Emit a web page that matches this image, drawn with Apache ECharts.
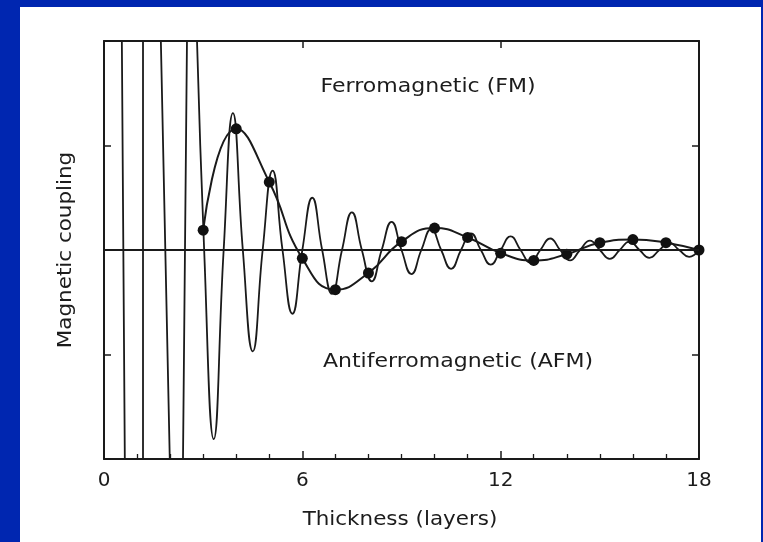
<!DOCTYPE html>
<html>
<head>
<meta charset="utf-8">
<script src="https://cdn.jsdelivr.net/npm/echarts@6/dist/echarts.min.js"></script>
<style>
  html, body { margin: 0; padding: 0; width: 763px; height: 542px; background: #0026b0; overflow: hidden; }
  #c { position: absolute; left: 20px; top: 7px; width: 741px; height: 535px; background: #ffffff; }
</style>
</head>
<body>
<div id="c"></div>
<script>
// ---- data ----
// thickness (layers) at which coupling is sampled (dots)
const layers = [3, 4, 5, 6, 7, 8, 9, 10, 11, 12, 13, 14, 15, 16, 17, 18];
const couplingAtLayers = [0.19, 1.16, 0.65, -0.08, -0.38, -0.22, 0.08, 0.21, 0.12, -0.03, -0.10, -0.04, 0.07, 0.10, 0.07, 0.00];

// continuous (short period) coupling, steep off-scale part at small thickness
const steepX = [0.45, 0.531, 0.639, 1.18, 1.18, 1.693, 2.017, 2.378, 2.522, 2.78];
const steepY = [2.4, 2.4, -2.4, -2.4, 2.4, 2.4, -2.4, -2.4, 2.4, 2.4];

// continuous (short period) coupling, on-scale part (extrema and zero crossings)
const oscX = [2.78, 3.03, 3.32, 3.62, 3.90, 4.20, 4.50, 4.80, 5.10, 5.40, 5.70, 6.00, 6.30, 6.60, 6.90,
              7.20, 7.50, 7.80, 8.10, 8.40, 8.70, 9.00, 9.30, 9.60, 9.90, 10.20, 10.50, 10.80, 11.10,
              11.40, 11.70, 12.00, 12.30, 12.60, 12.90, 13.20, 13.50, 13.80, 14.10, 14.40, 14.70,
              15.00, 15.30, 15.60, 15.90, 16.20, 16.50, 16.80, 17.10, 17.40, 17.70, 18.00];
const oscY = [2.4, 0, -1.81, 0, 1.31, 0, -0.97, 0, 0.76, 0, -0.61, 0, 0.50, 0, -0.42,
              0, 0.36, 0, -0.30, 0, 0.27, 0, -0.23, 0, 0.20, 0, -0.18, 0, 0.16,
              0, -0.14, 0, 0.13, 0, -0.12, 0, 0.11, 0, -0.10, 0, 0.09,
              0, -0.085, 0, 0.08, 0, -0.075, 0, 0.07, 0, -0.065, 0];

const xTickLabels = ['0', '6', '12', '18'];
const xTitle = 'Thickness (layers)';
const yTitle = 'Magnetic coupling';
const fmLabel = 'Ferromagnetic (FM)';
const afmLabel = 'Antiferromagnetic (AFM)';

// ---- chart ----
const ink = '#1a1a1a';
const textInk = '#1c1c1c';
const font = '"DejaVu Sans", sans-serif';
const zip = (xs, ys) => xs.map((x, i) => [x, ys[i]]);

const chart = echarts.init(document.getElementById('c'), null, { renderer: 'canvas' });

const frameAxisLine = { show: true, onZero: false, lineStyle: { color: ink, width: 2 } };
const tickStyle = { color: ink, width: 1.5 };

chart.setOption({
  animation: false,
  backgroundColor: '#ffffff',
  grid: { left: 84, right: 62, top: 34, bottom: 83, containLabel: false },
  xAxis: [
    {
      type: 'value', position: 'bottom', min: 0, max: 18, interval: 6,
      axisLine: frameAxisLine,
      axisTick: { show: true, inside: true, length: 8, lineStyle: tickStyle },
      minorTick: { show: true, splitNumber: 6, length: 5, lineStyle: { color: ink, width: 1.3 } },
      splitLine: { show: false },
      axisLabel: {
        show: true, margin: 12, color: textInk, fontSize: 20, fontFamily: font,
        formatter: v => xTickLabels[Math.round(v / 6)]
      }
    },
    {
      type: 'value', position: 'top', min: 0, max: 18, interval: 6,
      axisLine: frameAxisLine,
      axisTick: { show: true, inside: true, length: 7, lineStyle: tickStyle },
      splitLine: { show: false },
      axisLabel: { show: false }
    }
  ],
  yAxis: [
    {
      type: 'value', position: 'left', min: -2, max: 2, interval: 1,
      axisLine: frameAxisLine,
      axisTick: { show: true, inside: true, length: 7, lineStyle: tickStyle },
      splitLine: { show: false },
      axisLabel: { show: false }
    },
    {
      type: 'value', position: 'right', min: -2, max: 2, interval: 1,
      axisLine: frameAxisLine,
      axisTick: { show: true, inside: true, length: 7, lineStyle: tickStyle },
      splitLine: { show: false },
      axisLabel: { show: false }
    }
  ],
  series: [
    {
      name: 'steep', type: 'line', xAxisIndex: 0, yAxisIndex: 0,
      data: zip(steepX, steepY), smooth: false, symbol: 'none', clip: true,
      lineStyle: { color: ink, width: 1.8 },
      markLine: {
        silent: true, symbol: ['none', 'none'], label: { show: false },
        lineStyle: { color: ink, width: 2, type: 'solid' },
        data: [{ yAxis: 0 }]
      }
    },
    {
      name: 'oscillation', type: 'line', xAxisIndex: 0, yAxisIndex: 0,
      data: zip(oscX, oscY), smooth: 0.5, symbol: 'none', clip: true,
      lineStyle: { color: ink, width: 1.8 }
    },
    {
      name: 'coupling', type: 'line', xAxisIndex: 0, yAxisIndex: 0,
      data: zip(layers, couplingAtLayers), smooth: 0.5, clip: true,
      symbol: 'circle', symbolSize: 11, showSymbol: true,
      itemStyle: { color: '#111' },
      lineStyle: { color: ink, width: 2 }
    }
  ],
  graphic: [
    {
      type: 'text', x: 408, y: 80, scaleX: 1.16,
      style: { text: fmLabel, fill: textInk, font: '19px ' + font, textAlign: 'center', textVerticalAlign: 'middle' }
    },
    {
      type: 'text', x: 438, y: 355, scaleX: 1.16,
      style: { text: afmLabel, fill: textInk, font: '19px ' + font, textAlign: 'center', textVerticalAlign: 'middle' }
    },
    {
      type: 'text', x: 380, y: 513, scaleX: 1.13,
      style: { text: xTitle, fill: textInk, font: '19px ' + font, textAlign: 'center', textVerticalAlign: 'middle' }
    },
    {
      type: 'text', x: 46, y: 243, scaleX: 1.13, rotation: Math.PI / 2,
      style: { text: yTitle, fill: textInk, font: '19px ' + font, textAlign: 'center', textVerticalAlign: 'middle' }
    }
  ]
});
</script>
</body>
</html>
